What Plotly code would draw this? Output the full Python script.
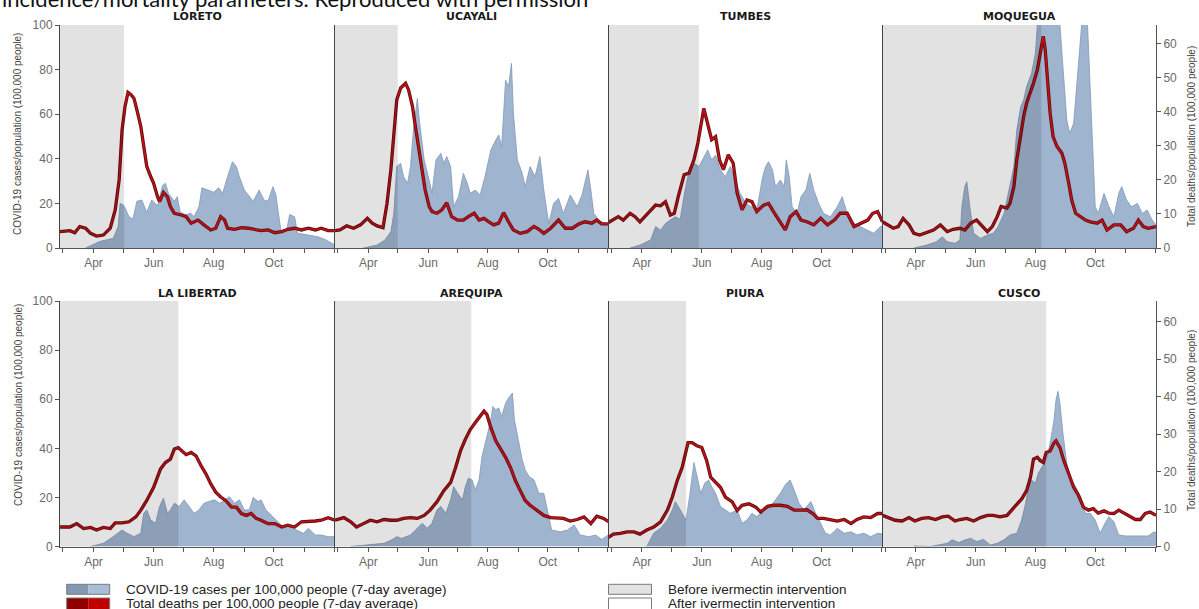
import pandas as pd
import plotly.graph_objects as go

# Day numbers are counted from 1 March 2020 (day 0).
START = pd.Timestamp("2020-03-01")
FIRST_DAY, LAST_DAY = -3, 276

REGIONS = ["LORETO", "UCAYALI", "TUMBES", "MOQUEGUA",
           "LA LIBERTAD", "AREQUIPA", "PIURA", "CUSCO"]
# last day of the period before the ivermectin intervention
INTERVENTION_DAY = [62, 61, 89, 159, 117, 136, 76, 164]

# (day, cases per 100,000 people, 7-day average)
LORETO_CASES = [(23, 0), (38, 3), (51, 4.3), (56, 9.6), (58, 20), (62, 19), (67, 14), (71, 13), (75, 21),
                (80, 21.5), (85, 16), (90, 21.5), (96, 19), (101, 28), (104, 29), (107, 24.5), (113, 21),
                (116, 23), (119, 16), (124, 15), (130, 15.5), (133, 14), (138, 18.5), (141, 27), (147, 26),
                (153, 25), (158, 27), (162, 24.5), (167, 32), (172, 38.7), (176, 36.5), (179, 32), (184, 26),
                (187, 24.5), (193, 21), (199, 26), (204, 21.5), (208, 21), (213, 27.5), (216, 24), (220, 12.5),
                (221, 8), (227, 8), (230, 15), (235, 14), (238, 6.6), (249, 5.8), (259, 5), (267, 3.6), (276, 1.3)]
UCAYALI_CASES = [(26, 0), (40, 1.3), (48, 3.6), (54, 7.3), (57, 15.5), (60, 36.5), (64, 38), (67, 32), (71, 29),
                 (74, 36.5), (77, 53), (81, 67), (83, 57.4), (88, 39.5), (93, 30.5), (96, 24.5), (100, 39.5),
                 (105, 42.5), (108, 38), (111, 41), (115, 36.5), (118, 18.5), (123, 23), (128, 33.5), (132, 29),
                 (135, 24.5), (140, 26), (145, 23.8), (150, 32), (156, 44), (161, 48.4), (164, 50.7), (167, 45.4),
                 (171, 75.3), (174, 72.3), (177, 82.8), (179, 60.4), (183, 39.5), (188, 33.5), (191, 27.5),
                 (196, 36.5), (201, 32), (206, 41), (210, 26), (215, 11), (220, 20), (225, 22.3), (230, 15.5),
                 (237, 23.8), (244, 18.5), (249, 23.8), (255, 35), (258, 26), (261, 15.5), (266, 12.6),
                 (271, 11), (276, 10.3)]
TUMBES_CASES = [(19, 0), (29, 1.3), (40, 3.6), (45, 9.6), (50, 8), (55, 11), (60, 12.6), (65, 14), (70, 12.9),
                (75, 26), (80, 36.5), (84, 38), (89, 36.5), (94, 41), (98, 44), (102, 39.5), (106, 41.7),
                (111, 35), (116, 32), (121, 36.5), (126, 30.5), (131, 24.5), (137, 20), (142, 18.5), (148, 17),
                (154, 32), (157, 36.5), (160, 38.7), (164, 35), (167, 27.5), (172, 30.5), (176, 27.5),
                (178, 39.5), (181, 32), (184, 18.5), (189, 15.5), (193, 23), (198, 26), (202, 33.5), (206, 26),
                (211, 20), (216, 15.5), (223, 14), (230, 18.5), (235, 23), (240, 15.5), (247, 11), (257, 8.8),
                (267, 6.6), (274, 9.6), (276, 9.6)]
MOQUEGUA_CASES = [(29, 0), (42, 1.3), (52, 2.8), (58, 5), (63, 2.8), (71, 2.1), (76, 3.6), (78, 18.5),
                  (81, 27.5), (83, 29.7), (86, 18.5), (90, 6.6), (97, 4.3), (104, 5.8), (110, 6.6), (115, 9.6),
                  (121, 15.5), (124, 21.5), (127, 29), (131, 36.5), (134, 53), (138, 63.4), (141, 66.4),
                  (144, 72.3), (149, 78.3), (153, 87.3), (155, 100), (160, 118), (168, 124), (175, 115),
                  (178, 100), (180, 87.3), (185, 57.4), (188, 51.4), (192, 56), (195, 72.3), (199, 94.8),
                  (202, 110), (205, 112), (208, 80), (211, 48.4), (214, 18.5), (217, 15.5), (223, 24.5),
                  (228, 18.5), (233, 14), (238, 24.5), (241, 27.5), (246, 21.5), (251, 18.5), (257, 20),
                  (262, 15.5), (267, 17), (272, 12.6), (276, 10.3)]
LA_LIBERTAD_CASES = [(28, 0), (41, 1.3), (51, 4), (60, 6.7), (65, 5.4), (72, 4), (79, 5.4), (82, 13.5),
                     (85, 14.9), (89, 10.8), (94, 9.5), (98, 16.3), (102, 19.7), (106, 13.5), (109, 14.9),
                     (113, 17.6), (118, 16.3), (123, 19), (128, 16.3), (133, 13.5), (138, 14.9), (143, 17.6),
                     (148, 18.3), (154, 19), (159, 17.6), (164, 19), (169, 20.3), (174, 17.6), (179, 19),
                     (184, 14.9), (189, 14.9), (193, 20), (198, 18.3), (201, 19), (206, 14.9), (211, 12.9),
                     (216, 10.8), (223, 8.1), (230, 8.8), (237, 6.7), (244, 5.4), (249, 7.4), (256, 4.7),
                     (262, 4.7), (269, 4), (276, 4)]
AREQUIPA_CASES = [(13, 0), (33, 0.6), (47, 1.3), (55, 2.7), (60, 4), (65, 3.3), (74, 4.7), (81, 7.4), (86, 9.5),
                  (91, 7.4), (96, 9.5), (101, 14.9), (105, 16.3), (110, 13.5), (115, 19), (118, 24.4),
                  (122, 21.7), (127, 19), (130, 24.4), (133, 27.8), (137, 27.1), (140, 23), (144, 27.1),
                  (147, 36.7), (152, 44.8), (156, 51.6), (158, 57), (161, 55.7), (164, 56.4), (167, 53),
                  (171, 58.4), (174, 60.5), (178, 62.5), (180, 51.6), (184, 43.5), (188, 35.3), (191, 31.2),
                  (195, 28.5), (200, 27.1), (205, 21.7), (210, 21.7), (215, 12.2), (218, 6.7), (227, 6),
                  (234, 6.7), (241, 8.8), (247, 4.7), (256, 4), (263, 4.7), (269, 2.9), (276, 4.7)]
PIURA_CASES = [(36, 0), (43, 5.4), (50, 7.4), (57, 10.8), (62, 14.9), (65, 18.3), (68, 16.3), (74, 12.2),
               (76, 10.8), (80, 21.7), (84, 34.2), (88, 27.1), (91, 21.7), (95, 25.8), (99, 27.1), (102, 24.4),
               (106, 21.7), (111, 16.3), (116, 14.9), (121, 13.5), (128, 14.9), (133, 9.5), (138, 10.8),
               (143, 13.5), (148, 12.2), (155, 14.9), (162, 16.3), (167, 19), (172, 21.7), (177, 25.1),
               (182, 27.1), (186, 23), (191, 17.6), (196, 14.9), (203, 18.3), (208, 13.5), (213, 9.5),
               (218, 5.4), (223, 4.7), (230, 7.4), (237, 5.4), (244, 6), (250, 4.7), (257, 5.4), (264, 4),
               (271, 5.4), (276, 5.1)]
CUSCO_CASES = [(29, 0.2), (46, 0), (63, 1.3), (68, 2.7), (75, 1.6), (81, 2.7), (87, 3.3), (93, 2), (100, 2.9),
               (107, 0.6), (114, 1.3), (121, 2.7), (127, 4.7), (134, 5.4), (139, 10.8), (143, 17.6), (146, 24.4),
               (149, 27.1), (153, 25.8), (156, 29.9), (160, 32.6), (164, 35.3), (168, 42.1), (172, 51.6),
               (174, 59.8), (176, 63.2), (178, 58.4), (181, 46.2), (185, 33.9), (189, 27.1), (194, 24.4),
               (199, 20.3), (204, 13.5), (209, 13.5), (214, 10.8), (219, 5.4), (224, 9.5), (228, 12.2),
               (233, 10.1), (238, 4.7), (245, 4.3), (253, 4.3), (262, 4), (268, 4.3), (274, 6), (276, 5.6)]

# (day, total deaths per 100,000 people, 7-day average)
LORETO_DEATHS = [(-3, 4.8), (7, 5.1), (12, 4.5), (17, 6.3), (23, 5.8), (28, 4.3), (34, 3.5), (41, 3.8),
                 (48, 5.8), (53, 11.2), (57, 20), (60, 34.7), (63, 41.6), (66, 45.7), (69, 45), (72, 44),
                 (75, 40.6), (79, 35.7), (82, 29.8), (85, 24), (89, 21), (92, 19), (96, 15), (98, 13.6),
                 (102, 16.3), (106, 15), (109, 12.2), (113, 10.2), (120, 9.7), (125, 9.2), (130, 7.3),
                 (137, 8.2), (143, 6.8), (150, 5.3), (155, 5.8), (160, 9.2), (164, 8.2), (167, 5.8), (174, 5.5),
                 (181, 6), (188, 5.8), (194, 5.5), (201, 5.1), (208, 5.3), (215, 4.5), (222, 4.8), (228, 5.5),
                 (235, 5.8), (242, 5.3), (249, 5.8), (256, 5.3), (262, 5.8), (269, 5.1), (276, 5.1)]
UCAYALI_DEATHS = [(-3, 5.1), (2, 5.3), (9, 6.5), (16, 5.8), (23, 6.8), (30, 8.7), (35, 7.3), (40, 6.5), (46, 6),
                  (50, 13), (54, 23), (57, 34.7), (60, 43.5), (64, 47), (69, 48.4), (72, 46.5), (76, 41.6),
                  (79, 35.7), (82, 29.8), (86, 23), (89, 17), (93, 12.2), (96, 10.7), (101, 10.2), (106, 11.2),
                  (111, 13.3), (116, 9.2), (122, 8.2), (128, 8.2), (133, 9.2), (139, 10.2), (144, 8.2),
                  (149, 8.7), (154, 7.7), (159, 6.8), (164, 7.3), (169, 10.4), (174, 7.7), (179, 5.3),
                  (186, 4.3), (193, 4.8), (200, 6.3), (205, 5.5), (210, 4.3), (217, 5.8), (225, 8.2),
                  (232, 5.8), (239, 5.8), (246, 7.1), (252, 7.7), (259, 7.3), (264, 8.2), (269, 7.1), (276, 7.1)]
TUMBES_DEATHS = [(-3, 7.5), (2, 8.4), (7, 9.2), (12, 8.2), (19, 10.2), (24, 9.2), (29, 7.7), (34, 9.2),
                 (40, 11.2), (45, 12.6), (50, 12.4), (55, 13.6), (60, 9.7), (64, 10.2), (68, 15.1), (74, 21.5),
                 (79, 22), (84, 25.9), (88, 30.8), (92, 38.6), (94, 41), (97, 37.6), (102, 31.8), (106, 32.7),
                 (110, 25.9), (114, 23), (119, 27.4), (124, 24.9), (128, 16.1), (133, 11.2), (138, 14.1),
                 (143, 13.6), (148, 10.7), (155, 12.6), (160, 13.1), (165, 10.7), (171, 8.2), (177, 5.3),
                 (182, 9.2), (188, 10.7), (193, 8.2), (199, 7.7), (206, 6.8), (213, 8.7), (220, 6.8),
                 (227, 8.2), (233, 10.2), (240, 10.2), (247, 6.3), (254, 7.3), (261, 8.2), (266, 10.2),
                 (271, 10.7), (276, 7.7)]
MOQUEGUA_DEATHS = [(-3, 7.7), (3, 6.8), (8, 5.8), (13, 6.3), (18, 8.7), (24, 6.8), (29, 4.3), (35, 3.8),
                   (42, 4.5), (49, 5.3), (56, 6.8), (63, 4.8), (69, 5.5), (76, 5.8), (81, 5.3), (87, 7.3),
                   (93, 8.2), (98, 6.8), (104, 4.8), (109, 6.3), (114, 9.2), (118, 12.2), (124, 11.7),
                   (127, 13.1), (131, 18), (134, 25.9), (138, 33.7), (141, 38.6), (144, 42.5), (148, 45.5),
                   (151, 48.4), (155, 52.4), (158, 57.3), (161, 62.2), (163, 58.2), (165, 51.4), (168, 39.6),
                   (171, 32.7), (175, 29.8), (180, 27.8), (183, 24.9), (187, 19), (190, 14.1), (194, 10.2),
                   (199, 9.2), (204, 8.2), (209, 7.7), (216, 7.3), (221, 8.2), (226, 5.3), (233, 6.8),
                   (240, 6.8), (246, 4.8), (253, 5.8), (258, 8.2), (263, 6.3), (268, 5.8), (276, 6.3)]
LA_LIBERTAD_DEATHS = [(-3, 5.2), (7, 5.2), (14, 6.1), (21, 4.8), (28, 5.1), (34, 4.4), (41, 5.1), (48, 4.8),
                      (53, 6.3), (60, 6.3), (67, 6.6), (74, 7.9), (79, 9.7), (85, 12.3), (92, 15.8), (99, 20.7),
                      (104, 22.4), (109, 23.3), (113, 26), (117, 26.4), (121, 25.4), (125, 24.5), (130, 25.1),
                      (135, 24.2), (140, 21.6), (145, 19.4), (150, 16.7), (155, 14.5), (160, 13.2), (165, 12.3),
                      (171, 10.5), (176, 10.5), (181, 8.8), (186, 8.3), (191, 8.8), (196, 7.5), (201, 7),
                      (208, 6.1), (215, 6.1), (222, 5.2), (228, 5.7), (235, 5.2), (242, 6.6), (249, 6.6),
                      (256, 6.8), (262, 7), (269, 7.7), (276, 7)]
AREQUIPA_DEATHS = [(-3, 7), (6, 7.7), (13, 6.6), (19, 5.2), (26, 6.1), (33, 7), (40, 6.6), (47, 7.2), (54, 7),
                   (60, 7), (67, 7.5), (74, 7.7), (81, 7.5), (88, 8.3), (94, 9.7), (101, 11.9), (108, 14.9),
                   (115, 17.1), (120, 21.1), (125, 25.5), (130, 28.6), (135, 31.2), (140, 33), (145, 34.8),
                   (149, 36.1), (152, 35.2), (156, 31.7), (161, 28.2), (166, 26), (171, 23.8), (176, 21.1),
                   (181, 17.6), (186, 14.9), (191, 12.3), (196, 11), (203, 9.7), (210, 8.3), (217, 7.7),
                   (224, 7.7), (230, 7.5), (237, 6.8), (244, 7.2), (251, 7.9), (258, 6.1), (264, 8.1),
                   (271, 7.5), (276, 6.6)]
PIURA_DEATHS = [(-3, 2.4), (2, 3.3), (9, 3.5), (16, 3.9), (23, 3.9), (29, 3.3), (36, 4.4), (43, 5.2), (50, 6.6),
                (57, 9.7), (62, 13.2), (67, 17.6), (72, 21.1), (75, 24.6), (78, 27.7), (82, 27.7), (87, 26.9),
                (92, 26.4), (97, 22.9), (101, 18.5), (106, 17.1), (111, 15.8), (116, 13.2), (123, 11.9),
                (128, 9.6), (133, 11), (140, 11.4), (147, 10.5), (152, 9.2), (159, 10.7), (165, 11), (172, 11),
                (179, 10.7), (186, 9.7), (193, 9.7), (199, 9.8), (205, 8.8), (210, 7.5), (216, 7.5),
                (223, 7.2), (230, 6.8), (237, 7.2), (244, 6.1), (250, 7.2), (257, 7.9), (264, 7.7),
                (271, 8.8), (276, 8.8)]
CUSCO_DEATHS = [(-3, 8.3), (3, 7.7), (10, 7), (17, 6.8), (24, 7.7), (30, 6.8), (37, 7.5), (44, 7.7), (51, 7.2),
                (58, 7.9), (64, 8.1), (71, 6.8), (76, 7.2), (83, 7.5), (90, 6.8), (97, 7.7), (104, 8.3),
                (110, 8.3), (117, 7.9), (124, 8.3), (129, 9.7), (134, 11), (139, 12.7), (144, 14.9),
                (148, 18.5), (151, 23.3), (155, 23.8), (158, 22.9), (161, 22.4), (164, 25.1), (168, 25.5),
                (172, 27.7), (174, 28.2), (178, 26.4), (182, 22.9), (187, 19.4), (192, 15.8), (197, 13.6),
                (202, 10.5), (207, 9.7), (212, 10.1), (217, 8.9), (223, 9.5), (228, 8.9), (233, 8.8),
                (238, 9.7), (243, 8.9), (248, 8.3), (255, 7.2), (260, 7.2), (265, 8.8), (270, 9.2), (276, 8.3)]

CASES = [LORETO_CASES, UCAYALI_CASES, TUMBES_CASES, MOQUEGUA_CASES,
         LA_LIBERTAD_CASES, AREQUIPA_CASES, PIURA_CASES, CUSCO_CASES]
DEATHS = [LORETO_DEATHS, UCAYALI_DEATHS, TUMBES_DEATHS, MOQUEGUA_DEATHS,
          LA_LIBERTAD_DEATHS, AREQUIPA_DEATHS, PIURA_DEATHS, CUSCO_DEATHS]

MONTH_LABELS = ["2020-04-01", "2020-06-01", "2020-08-01", "2020-10-01"]
CASE_TICKS = [0, 20, 40, 60, 80, 100]
DEATH_TICKS = [0, 10, 20, 30, 40, 50, 60]
CASE_RANGE = [0, 100]
DEATH_RANGE = [0, 65.5]

# ---- page geometry (pixels) ----
W, H = 1199, 609
COL_EDGES = [60, 335, 608.5, 882.5, 1156]
ROWS = [(25, 248), (301, 546.5)]        # top / bottom edge of each row of panels

CASE_FILL = "#9fb4cf"
CASE_EDGE = "#8298b7"
DEATH_RED = "#b8141c"
DEATH_DARK = "#6a0a0c"
AXIS_GREY = "#555555"
TICK_FONT = dict(family="Liberation Sans, Arial, sans-serif", size=12, color="#6a6a6a")


def day_to_date(d):
    return START + pd.Timedelta(days=d)


def fx(px):
    return px / W


def fy(py):
    return 1 - py / H


fig = go.Figure()
layout = dict(shapes=[], annotations=[])

for i, region in enumerate(REGIONS):
    row, col = divmod(i, 4)
    xn = "x" if i == 0 else f"x{i + 1}"
    yc = "y" if i == 0 else f"y{2 * i + 1}"
    yd = f"y{2 * i + 2}"
    xkey = "xaxis" if i == 0 else f"xaxis{i + 1}"
    yckey = "yaxis" if i == 0 else f"yaxis{2 * i + 1}"
    ydkey = f"yaxis{2 * i + 2}"

    cases = CASES[i]
    deaths = DEATHS[i]

    fig.add_trace(go.Scatter(
        x=[day_to_date(d) for d, _ in cases], y=[v for _, v in cases],
        xaxis=xn, yaxis=yc, mode="lines", fill="tozeroy",
        fillcolor=CASE_FILL, line=dict(color=CASE_EDGE, width=0.8),
        showlegend=False, hoverinfo="skip"))
    dx = [day_to_date(d) for d, _ in deaths]
    dy = [v for _, v in deaths]
    fig.add_trace(go.Scatter(x=dx, y=dy, xaxis=xn, yaxis=yd, mode="lines",
                             line=dict(color=DEATH_DARK, width=3.3),
                             showlegend=False, hoverinfo="skip"))
    fig.add_trace(go.Scatter(x=dx, y=dy, xaxis=xn, yaxis=yd, mode="lines",
                             line=dict(color=DEATH_RED, width=1.6),
                             showlegend=False, hoverinfo="skip"))

    top, bottom = ROWS[row]
    ydom = [fy(bottom), fy(top)]
    layout[xkey] = dict(
        domain=[fx(COL_EDGES[col]), fx(COL_EDGES[col + 1])], anchor=yc, type="date",
        range=[day_to_date(FIRST_DAY), day_to_date(LAST_DAY)],
        tickformat="%b", tickvals=MONTH_LABELS,
        ticks="outside", ticklen=4, tickwidth=1, tickcolor=AXIS_GREY,
        minor=dict(dtick="M1", tick0="2020-03-01", ticks="outside", ticklen=4,
                   tickcolor=AXIS_GREY, showgrid=False),
        showline=True, linecolor=AXIS_GREY, linewidth=1,
        showgrid=False, zeroline=False, tickfont=TICK_FONT)
    layout[yckey] = dict(
        domain=ydom, anchor=xn, range=CASE_RANGE, showline=True, linecolor="#444444",
        linewidth=1, showgrid=False, zeroline=False,
        tickvals=CASE_TICKS, ticks="outside" if col == 0 else "",
        ticklen=4, tickcolor=AXIS_GREY, showticklabels=(col == 0), tickfont=TICK_FONT)
    if col == 3:
        layout[ydkey] = dict(
            overlaying=yc, side="right", anchor=xn, range=DEATH_RANGE,
            showline=True, linecolor=AXIS_GREY, linewidth=1, showgrid=False, zeroline=False,
            tickvals=DEATH_TICKS, ticks="outside", ticklen=4, tickcolor=AXIS_GREY,
            tickfont=TICK_FONT)
    else:
        layout[ydkey] = dict(overlaying=yc, side="right", anchor=xn, range=DEATH_RANGE,
                             visible=False)

    # pre-intervention period: a translucent grey veil over the panel
    layout["shapes"].append(dict(
        type="rect", xref=xn, yref=f"{yc} domain",
        x0=day_to_date(FIRST_DAY), x1=day_to_date(INTERVENTION_DAY[i]), y0=0, y1=1,
        fillcolor="rgba(0,0,0,0.115)", line=dict(width=0), layer="above"))

    # panel title
    layout["annotations"].append(dict(
        text=f"<b>{region}</b>", xref="paper", yref="paper",
        x=fx((COL_EDGES[col] + COL_EDGES[col + 1]) / 2), y=fy(top - 8),
        xanchor="center", yanchor="middle", showarrow=False,
        font=dict(family="DejaVu Sans, sans-serif", size=11, color="#1a1a1a")))

# axis titles
for py in (134, 405):
    layout["annotations"].append(dict(
        text="COVID-19 cases/population (100,000 people)", xref="paper", yref="paper",
        x=fx(18), y=fy(py), textangle=-90, showarrow=False, xanchor="center", yanchor="middle",
        font=dict(family="Liberation Sans, Arial, sans-serif", size=10, color="#444444")))
for py in (137, 421):
    layout["annotations"].append(dict(
        text="Total deaths/population (100,000 people)", xref="paper", yref="paper",
        x=fx(1191), y=fy(py), textangle=-90, showarrow=False, xanchor="center", yanchor="middle",
        font=dict(family="Liberation Sans, Arial, sans-serif", size=10, color="#444444")))

# caption line running off the top of the page
layout["annotations"].append(dict(
    text="incidence/mortality parameters. Reproduced with permission", xref="paper", yref="paper",
    x=0, y=fy(-2), xanchor="left", yanchor="middle", showarrow=False,
    font=dict(family="Lato, sans-serif", size=22, color="#111111")))

# legend drawn as swatches + labels
LEGEND_ROWS = [(584.3, 594.3), (598, 609.5)]
legend_items = [
    (66.7, 0, ("#8497b3", "#a9bdd7"), "COVID-19 cases per 100,000 people (7-day average)"),
    (66.7, 1, ("#8e0000", "#c00000"), "Total deaths per 100,000 people (7-day average)"),
    (608.5, 0, ("#e2e2e2", "#e2e2e2"), "Before ivermectin intervention"),
    (608.5, 1, ("#ffffff", "#ffffff"), "After ivermectin intervention"),
]
for x0, r, (c_left, c_right), label in legend_items:
    y0, y1 = LEGEND_ROWS[r]
    x1 = x0 + 43
    xm = (x0 + x1) / 2
    layout["shapes"].append(dict(type="rect", xref="paper", yref="paper",
                                 x0=fx(x0), x1=fx(xm), y0=fy(y1), y1=fy(y0),
                                 fillcolor=c_left, line=dict(width=0)))
    layout["shapes"].append(dict(type="rect", xref="paper", yref="paper",
                                 x0=fx(xm), x1=fx(x1), y0=fy(y1), y1=fy(y0),
                                 fillcolor=c_right, line=dict(width=0)))
    layout["shapes"].append(dict(type="rect", xref="paper", yref="paper",
                                 x0=fx(x0), x1=fx(x1), y0=fy(y1), y1=fy(y0),
                                 fillcolor="rgba(0,0,0,0)", line=dict(color="#7a7a7a", width=1)))
    layout["annotations"].append(dict(
        text=label, xref="paper", yref="paper", x=fx(x1 + 14), y=fy((y0 + y1) / 2),
        xanchor="left", yanchor="middle", showarrow=False,
        font=dict(family="Liberation Sans, Arial, sans-serif", size=13.5, color="#222222")))

fig.update_layout(
    width=W, height=H, margin=dict(l=0, r=0, t=0, b=0),
    paper_bgcolor="white", plot_bgcolor="white", showlegend=False,
    template="none", **layout)

fig.write_html("out.html")
